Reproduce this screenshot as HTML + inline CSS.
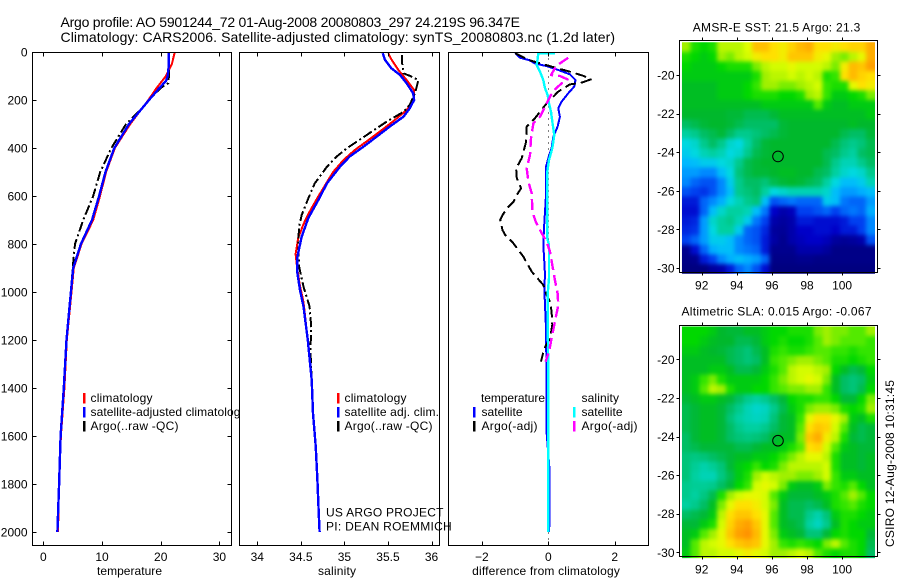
<!DOCTYPE html>
<html>
<head>
<meta charset="utf-8">
<title>Argo profile</title>
<style>
html,body{margin:0;padding:0;background:#fff;}
svg{display:block;}
text{font-family:"Liberation Sans",sans-serif;font-size:12px;fill:#000;}
.title{font-size:14px;}
</style>
</head>
<body>
<svg id="chart" xmlns="http://www.w3.org/2000/svg" width="900" height="580" viewBox="0 0 900 580">
<defs>
<filter id="map-smooth" x="-10%" y="-10%" width="120%" height="120%" color-interpolation-filters="sRGB"><feGaussianBlur stdDeviation="2.2"/></filter>
</defs>
<rect width="900" height="580" fill="#fff"/>
<text class="title" x="60.5" y="27" textLength="459.5">Argo profile: AO 5901244_72 01-Aug-2008 20080803_297 24.219S 96.347E</text>
<text class="title" x="60.5" y="42" textLength="554.5">Climatology: CARS2006. Satellite-adjusted climatology: synTS_20080803.nc (1.2d later)</text>
<g id="plots"></g>
</svg>
<script>
// ---------- axis tick labels ----------
const depthTicks = [0,200,400,600,800,1000,1200,1400,1600,1800,2000];
const tempTicks = [0,10,20,30];
const salTicks = [34,34.5,35,35.5,36];
const diffTicks = [-2,0,2];
const lonTicks = [92,94,96,98,100];
const latTicks = [20,22,24,26,28,30];

// ---------- temperature panel ----------
const tempClimDepth = [0,50,100,150,200,300,400,500,600,700,800,900,1000,1200,1400,1600,1800,2000];
const tempClimValue = [22.4,21.9,20.9,19.3,17.9,14.8,12.2,10.7,9.66,8.5,6.5,5.2,4.8,4.0,3.6,3.0,2.7,2.5];
const tempSatDepth = [0,50,100,120,150,175,200,300,400,500,600,700,800,900,1000,1200,1400,1600,1800,2000];
const tempSatValue = [21.4,21.4,21.2,20.9,19.8,18.9,18.0,14.6,12.1,10.6,9.5,8.3,6.4,5.1,4.7,3.95,3.5,2.95,2.7,2.4];
const tempArgoDepth = [0,50,100,130,150,200,250,300,400,500,600,700,800,900,1000,1200,1400,1600,1800,2000];
const tempArgoValue = [21.4,21.4,21.4,21.3,20.0,18.0,16.2,14.1,11.6,9.7,8.5,6.8,5.4,5.0,4.7,3.95,3.5,2.95,2.7,2.4];

// ---------- salinity panel ----------
const salClimDepth = [5,26,75,117,158,200,242,283,325,367,408,450,500,542,608,675,717,775,842,908,975,1042,1200,1367,1506,1642,1783,1917,2000];
const salClimValue = [35.505,35.53,35.62,35.715,35.8,35.79,35.715,35.58,35.43,35.275,35.12,34.99,34.87,34.8,34.69,34.585,34.53,34.47,34.44,34.46,34.49,34.53,34.58,34.625,34.64,34.67,34.69,34.705,34.715];
const salSatDepth = [5,33,68,96,131,172,200,235,269,311,353,394,436,478,547,617,692,769,853,922,992,1061,1200,1367,1506,1642,1783,1917,2000];
const salSatValue = [35.44,35.466,35.54,35.64,35.715,35.79,35.8,35.75,35.68,35.52,35.37,35.22,35.06,34.95,34.8,34.7,34.586,34.51,34.46,34.46,34.49,34.53,34.58,34.625,34.64,34.67,34.69,34.705,34.715];
const salArgoDepth = [12,54,89,99,117,172,221,249,290,346,401,436,478,547,610,679,728,797,894,978,1061,1150,1240,1367,1506,1642,1783,1917,2000];
const salArgoValue = [35.66,35.665,35.68,35.75,35.85,35.81,35.75,35.68,35.486,35.256,35.03,34.91,34.8,34.66,34.586,34.51,34.48,34.47,34.48,34.53,34.6,34.62,34.61,34.625,34.64,34.67,34.69,34.705,34.715];

// ---------- difference panel ----------
const diffTSatDepth = [5,24,33,47,61,75,93,117,144,172,207,235,270,311,353,401,443,478,526,596,665,735,804,874,929,985,1054,1151,1387,1570,1728,1950,2000];
const diffTSatValue = [-1.0,-0.85,-0.6,-0.4,0,0.3,0.65,0.82,0.78,0.6,0.4,0.3,0.35,0.28,0.15,0.1,0,-0.07,-0.07,-0.07,-0.1,-0.13,-0.15,-0.12,-0.1,-0.12,-0.1,-0.07,-0.05,-0.06,0.03,0.04,0.02];
const diffTArgoDepth = [5,33,57,82,99,114,128,135,165,214,276,311,374,443,485,526,568,596,624,644,679,700,742,762,797,853,915,971,1013,1040,1082,1137,1193,1235,1290];
const diffTArgoValue = [-1.0,-0.6,0,0.65,1.05,1.28,1.0,0.65,0.3,-0.05,-0.4,-0.65,-0.67,-0.8,-0.97,-0.95,-0.82,-0.95,-1.05,-1.2,-1.38,-1.45,-1.38,-1.3,-1.05,-0.75,-0.5,-0.15,-0.05,0.05,0.1,0.12,0.05,-0.12,-0.22];
const diffSSatDepth = [5,6,26,54,82,117,151,179,214,249,290,346,401,450,498,596,777,804,874,943,1013,1387,2000];
const diffSSatValue = [0.2,-0.3,-0.32,-0.35,-0.25,-0.15,-0.1,-0.02,0.02,0.08,0.12,0.18,0.12,0.02,-0.03,-0.03,-0.03,0.02,0.02,0.02,-0.02,0.0,0.0];
const diffSArgoDepth = [24,52,68,96,100,114,131,158,186,270,297,360,429,485,540,589,665,707,755,790,832,887,950,1006,1054,1124,1193,1249,1290];
const diffSArgoValue = [0.6,0.3,0.2,0.08,0.35,0.58,0.4,0.18,0.05,-0.25,-0.45,-0.52,-0.55,-0.65,-0.6,-0.5,-0.48,-0.38,-0.2,-0.05,0.05,0.12,0.2,0.28,0.3,0.2,0.1,0.02,-0.08];

// ---------- satellite maps: colour-scale level per 0.5 degree cell ----------
const sstGrid = [
[70,62,60,62,72,72,72,75,85,85,80,78,82,86,88,80,80,78,80,82,82,88],
[62,60,58,60,70,68,72,74,78,80,80,78,84,84,84,78,76,70,68,72,76,88],
[60,58,58,58,60,62,62,62,68,72,74,74,76,74,74,74,72,68,78,86,84,90],
[58,58,58,58,58,58,58,58,62,70,72,72,74,72,74,72,62,64,80,86,82,80],
[56,56,56,56,58,58,58,60,64,70,70,68,68,70,72,74,64,62,62,76,80,78],
[56,56,56,56,58,58,58,60,62,62,62,60,60,62,70,72,64,58,58,60,62,68],
[56,56,56,56,56,56,56,56,56,58,58,58,58,58,58,66,58,56,56,58,58,58],
[55,55,55,55,55,54,54,52,52,52,54,56,56,56,56,56,56,56,56,56,56,58],
[50,52,54,55,55,54,52,50,50,50,50,54,55,55,55,55,55,55,55,56,55,55],
[44,46,50,52,54,50,46,46,48,50,52,54,55,55,55,55,55,55,52,50,50,54],
[38,40,46,50,46,40,38,44,50,54,55,55,55,55,55,55,55,52,48,46,48,52],
[36,38,42,44,42,38,40,46,52,54,55,55,55,55,55,55,52,50,46,44,50,52],
[33,34,36,36,38,40,46,52,54,55,55,55,55,55,55,55,52,46,42,42,46,50],
[30,30,28,28,34,38,48,52,54,54,55,56,56,55,55,52,50,44,40,38,40,46],
[28,24,22,22,28,36,46,50,50,48,52,54,55,54,52,50,44,38,34,34,36,42],
[22,20,18,22,28,34,46,48,50,44,38,40,42,42,42,42,40,34,30,30,32,34],
[14,14,24,28,32,38,42,46,48,34,22,24,26,24,24,24,36,34,26,24,24,30],
[12,12,24,34,40,44,44,42,34,26,10,6,8,20,20,22,24,20,24,26,24,32],
[14,16,30,40,44,46,42,36,26,20,6,4,6,14,14,12,12,12,14,20,20,28],
[16,18,30,38,44,44,36,24,22,16,4,3,6,10,10,12,12,10,14,14,20,28],
[20,24,30,36,36,34,28,24,22,14,5,2,6,8,10,10,8,4,3,4,6,22],
[2,12,24,32,34,34,28,26,24,14,2,2,2,6,6,6,4,1,1,1,1,1],
[1,2,14,20,28,32,34,32,30,24,1,1,1,2,2,1,1,1,1,1,1,1],
[0,0,0,4,6,14,24,28,22,12,0,0,0,0,0,0,0,0,0,0,0,0]
];
const slaGrid = [
[60,60,60,58,55,54,54,56,56,58,60,60,62,62,62,68,70,68,68,66,66,70],
[60,60,58,56,55,55,52,52,54,58,60,62,60,60,62,66,70,68,66,66,66,64],
[58,58,56,55,54,52,50,48,52,56,62,64,62,62,64,66,66,64,64,62,64,64],
[56,56,56,56,56,52,50,48,50,56,64,66,68,70,70,68,66,62,62,60,62,64],
[56,56,56,58,58,56,52,52,54,58,62,66,72,74,74,72,70,60,56,52,54,60],
[56,58,64,68,62,58,58,58,58,60,64,68,72,74,76,74,68,56,50,48,50,58],
[56,58,66,72,70,62,58,58,60,60,64,66,68,68,70,70,64,56,50,48,52,60],
[54,56,58,58,56,54,50,46,44,46,50,54,60,62,62,64,64,60,54,54,60,68],
[52,54,56,56,54,50,46,42,40,41,46,52,58,62,68,70,70,68,62,60,62,70],
[52,54,56,56,54,48,44,42,41,42,48,54,56,64,76,80,80,76,70,58,56,62],
[52,54,56,56,54,50,46,44,44,46,50,54,56,66,80,84,82,74,66,56,52,54],
[50,54,56,56,54,50,48,47,48,50,54,56,56,68,84,88,78,72,62,54,52,54],
[50,52,54,54,54,54,52,52,54,56,56,58,62,66,80,82,74,66,58,56,54,54],
[48,47,48,50,52,54,56,56,58,58,60,64,68,72,76,76,72,62,56,56,54,56],
[48,45,43,45,48,54,58,60,64,60,62,68,72,72,72,72,74,62,56,56,54,56],
[48,44,42,42,47,52,58,62,70,74,72,70,70,68,68,70,74,64,58,58,56,56],
[46,45,45,46,50,54,60,64,74,76,74,68,58,56,56,58,68,64,62,66,60,56],
[46,44,47,52,62,70,74,76,76,74,66,58,54,54,54,56,58,62,66,70,66,60],
[44,46,50,56,68,76,80,80,78,74,68,56,52,52,50,52,56,62,64,66,62,60],
[50,52,54,58,72,80,84,84,80,76,66,56,52,52,46,43,48,58,62,62,60,58],
[54,54,58,62,74,82,88,90,84,76,66,56,54,52,44,41,46,56,62,60,58,58],
[56,58,66,70,76,84,90,92,86,76,68,58,56,54,48,48,54,60,62,60,60,54],
[56,66,72,74,76,80,84,86,84,76,70,64,62,64,62,60,68,72,66,62,60,52],
[58,66,72,72,74,74,76,78,76,74,70,70,72,74,72,66,62,60,62,62,60,50]
];
const argoLon = [96.347];
const argoLat = [24.219];

// ---------- axis functions ----------
const SVGNS = 'http://www.w3.org/2000/svg';
const plots = document.getElementById('plots');
const yDepth = d => 52 + 0.24 * d;
const xTemp = v => 43.3 + 5.87 * v;
const xSal = v => 257.3 + 87.1 * (v - 34);
const xDiff = v => 548.3 + 33.2 * v;
const xLon = v => 701.7 + 17.55 * (v - 92);
const yLat1 = v => 75 + 19.3 * (v - 20);
const yLat2 = v => 359.3 + 19.3 * (v - 20);

function make(tag, attrs, parent, text) {
  const el = document.createElementNS(SVGNS, tag);
  for (const k in attrs) el.setAttribute(k, attrs[k]);
  if (text !== undefined) el.textContent = text;
  (parent || plots).appendChild(el);
  return el;
}
function group(name) {
  const g = make('g', {});
  
  
  return g;
}
function addLabel(parent, name, x, y, str, anchor, len) {
  const t = make('text', {x: x, y: y, 'text-anchor': anchor || 'start'}, parent, str);
  if (len) t.setAttribute('textLength', len);
  
  
  return t;
}
function addLine(parent, name, x1, y1, x2, y2) {
  const l = make('line', {x1: x1, y1: y1, x2: x2, y2: y2, stroke: '#000', 'stroke-width': 1, 'shape-rendering': 'crispEdges'}, parent);
  
  
  return l;
}
function addSeries(parent, name, depths, values, xFn, color, width, dash) {
  const pts = depths.map((d, i) => xFn(values[i]).toFixed(1) + ',' + yDepth(d).toFixed(1)).join(' ');
  const attrs = {points: pts, fill: 'none', stroke: color, 'stroke-width': width, 'stroke-linejoin': 'round', 'shape-rendering': 'crispEdges'};
  if (dash) attrs['stroke-dasharray'] = dash;
  const p = make('polyline', attrs, parent);
  
  
  return p;
}
function addLegendBar(parent, name, x, y, color) {
  const r = make('rect', {x: x, y: y, width: 2.4, height: 10.5, fill: color, 'shape-rendering': 'crispEdges'}, parent);
  
  
  return r;
}
function addPanel(name, left, right, top, bottom) {
  const g = group(name);
  const bg = make('rect', {x: left, y: top, width: right - left, height: bottom - top, fill: '#fff'}, g);
  
  
  return g;
}
function addFrame(g, name, left, right, top, bottom) {
  const f = make('rect', {x: left, y: top, width: right - left, height: bottom - top, fill: 'none', stroke: '#000', 'stroke-width': 1, 'shape-rendering': 'crispEdges'}, g);
  
  
}
function addXTicks(g, prefix, ticks, xFn, top, bottom) {
  ticks.forEach(v => {
    const x = Math.round(xFn(v)) + 0.5;
    addLine(g, prefix + '-tick-top', x, top, x, top + 4);
    addLine(g, prefix + '-tick-bottom', x, bottom - 4, x, bottom);
    addLabel(g, prefix + '-tick-label', xFn(v), 561, String(v).replace('-', '\u2212'), 'middle');
  });
}

const DASHDOT = '10 3 2 3';
const DASHED = '11 5';

// ---------- temperature panel ----------
(function () {
  const L = 32.5, R = 231.5, T = 52.5, B = 545.5;
  const g = addPanel('temperature-panel', L, R, T, B);
  addSeries(g, 'temperature-climatology-line', tempClimDepth, tempClimValue, xTemp, '#ff0000', 2);
  addSeries(g, 'temperature-argo-line', tempArgoDepth, tempArgoValue, xTemp, '#000', 2, DASHDOT);
  addSeries(g, 'temperature-satellite-line', tempSatDepth, tempSatValue, xTemp, '#0000ff', 2.4);
  addFrame(g, 'temperature-panel', L, R, T, B);
  depthTicks.forEach(d => {
    const y = Math.round(yDepth(d)) + 0.5;
    addLine(g, 'depth-tick-left', L, y, L + 4, y);
    addLine(g, 'depth-tick-right', R - 4, y, R, y);
    addLabel(g, 'depth-tick-label', 27.5, yDepth(d) + 4.5, String(d), 'end');
  });
  addXTicks(g, 'temperature', tempTicks, xTemp, T, B);
  addLabel(g, 'temperature-axis-title', 129.5, 575, 'temperature', 'middle', 65);
  addLegendBar(g, 'legend-climatology-swatch', 83, 393, '#ff0000');
  addLabel(g, 'legend-climatology-label', 90.5, 402, 'climatology', 'start', 62);
  addLegendBar(g, 'legend-satellite-swatch', 83, 407, '#0000ff');
  addLabel(g, 'legend-satellite-label', 90.5, 416, 'satellite-adjusted climatology', 'start', 156);
  addLegendBar(g, 'legend-argo-swatch', 83, 421, '#000');
  addLabel(g, 'legend-argo-label', 90.5, 430, 'Argo(..raw -QC)', 'start', 88);
})();

// ---------- salinity panel ----------
(function () {
  const L = 239.5, R = 439.5, T = 52.5, B = 545.5;
  const g = addPanel('salinity-panel', L, R, T, B);
  addSeries(g, 'salinity-climatology-line', salClimDepth, salClimValue, xSal, '#ff0000', 2);
  addSeries(g, 'salinity-argo-line', salArgoDepth, salArgoValue, xSal, '#000', 2, DASHDOT);
  addSeries(g, 'salinity-satellite-line', salSatDepth, salSatValue, xSal, '#0000ff', 2.4);
  addFrame(g, 'salinity-panel', L, R, T, B);
  addXTicks(g, 'salinity', salTicks, xSal, T, B);
  addLabel(g, 'salinity-axis-title', 337, 575, 'salinity', 'middle', 38);
  addLegendBar(g, 'salinity-legend-climatology-swatch', 337, 393, '#ff0000');
  addLabel(g, 'salinity-legend-climatology-label', 344.5, 402, 'climatology', 'start', 62);
  addLegendBar(g, 'salinity-legend-satellite-swatch', 337, 407, '#0000ff');
  addLabel(g, 'salinity-legend-satellite-label', 344.5, 416, 'satellite adj. clim.', 'start', 94.5);
  addLegendBar(g, 'salinity-legend-argo-swatch', 337, 421, '#000');
  addLabel(g, 'salinity-legend-argo-label', 344.5, 430, 'Argo(..raw -QC)', 'start', 88);
})();

// ---------- difference panel ----------
(function () {
  const L = 448.5, R = 648.5, T = 52.5, B = 545.5;
  const g = addPanel('difference-panel', L, R, T, B);
  const zero = addLine(g, 'zero-reference-line', xDiff(0), T, xDiff(0), B);
  zero.setAttribute('stroke-dasharray', '1 5');
  addSeries(g, 'difference-temperature-satellite-line', diffTSatDepth, diffTSatValue, xDiff, '#0000ff', 2);
  addSeries(g, 'difference-temperature-argo-line', diffTArgoDepth, diffTArgoValue, xDiff, '#000', 2, DASHED);
  addSeries(g, 'difference-salinity-satellite-line', diffSSatDepth, diffSSatValue, xDiff, '#00ffff', 2.4);
  addSeries(g, 'difference-salinity-argo-line', diffSArgoDepth, diffSArgoValue, xDiff, '#ff00ff', 2.4, DASHED);
  addFrame(g, 'difference-panel', L, R, T, B);
  addXTicks(g, 'difference', diffTicks, xDiff, T, B);
  addLabel(g, 'difference-axis-title', 546, 575, 'difference from climatology', 'middle', 147.7);
  addLabel(g, 'legend-temperature-heading', 481, 402, 'temperature', 'start', 64);
  addLegendBar(g, 'legend-temperature-satellite-swatch', 473, 407, '#0000ff');
  addLabel(g, 'legend-temperature-satellite-label', 481.5, 416, 'satellite', 'start', 41);
  addLegendBar(g, 'legend-temperature-argo-swatch', 473, 421, '#000');
  addLabel(g, 'legend-temperature-argo-label', 481.5, 430, 'Argo(-adj)', 'start', 56);
  addLabel(g, 'legend-salinity-heading', 581.5, 402, 'salinity', 'start', 37.5);
  addLegendBar(g, 'legend-salinity-satellite-swatch', 573, 407, '#00ffff');
  addLabel(g, 'legend-salinity-satellite-label', 581.5, 416, 'satellite', 'start', 41);
  addLegendBar(g, 'legend-salinity-argo-swatch', 573, 421, '#ff00ff');
  addLabel(g, 'legend-salinity-argo-label', 581.5, 430, 'Argo(-adj)', 'start', 56);
})();

// ---------- project annotation (drawn over panel edges) ----------
(function () {
  const g = group('project-annotation');
  addLabel(g, 'project-name', 326, 516.5, 'US ARGO PROJECT', 'start', 117.5);
  addLabel(g, 'principal-investigator', 326, 530.5, 'PI: DEAN ROEMMICH', 'start', 125.7);
})();

// ---------- maps ----------
const colorStops = [
  [0,[0,0,128]],[10,[0,0,200]],[20,[0,64,240]],[27,[0,128,255]],[33,[0,184,255]],
  [38,[0,216,224]],[44,[0,208,160]],[50,[0,190,100]],[55,[0,184,44]],[60,[0,216,0]],
  [65,[64,232,0]],[70,[160,240,0]],[75,[224,255,0]],[80,[255,224,0]],[85,[255,192,0]],
  [90,[255,160,0]],[100,[255,96,0]]
];
function levelColor(v) {
  for (let i = 1; i < colorStops.length; i++) {
    if (v <= colorStops[i][0]) {
      const a = colorStops[i - 1], b = colorStops[i];
      const t = (v - a[0]) / (b[0] - a[0]);
      const c = a[1].map((q, j) => Math.round(q + (b[1][j] - q) * t));
      return 'rgb(' + c.join(',') + ')';
    }
  }
  return 'rgb(255,96,0)';
}
function addMap(name, grid, yLat, top, bottom, titleText, titleY, labelY, titleLen) {
  const L = 679.5, R = 877.5;
  const g = group(name);
  const lon0 = 90.875, lat0 = 18.3, step = 0.5;
  const rows = grid.length, cols = grid[0].length;
  const EXT = 12;
  const clip = make('clipPath', {id: name + '-clip'}, g);
  make('rect', {
    x: xLon(lon0), y: yLat(lat0),
    width: xLon(lon0 + cols * step) - xLon(lon0),
    height: yLat(lat0 + rows * step) - yLat(lat0)
  }, clip);
  const clipped = make('g', {'clip-path': 'url(#' + name + '-clip)'}, g);
  
  
  const cells = make('g', {filter: 'url(#map-smooth)'}, clipped);
  
  
  grid.forEach((row, r) => {
    row.forEach((v, c) => {
      const x0 = xLon(lon0 + c * step) - (c === 0 ? EXT : 0);
      const x1 = xLon(lon0 + (c + 1) * step) + (c === cols - 1 ? EXT : 0);
      const y0 = yLat(lat0 + r * step) - (r === 0 ? EXT : 0);
      const y1 = yLat(lat0 + (r + 1) * step) + (r === rows - 1 ? EXT : 0);
      const cell = make('rect', {x: x0.toFixed(2), y: y0.toFixed(2), width: (x1 - x0 + 0.3).toFixed(2), height: (y1 - y0 + 0.3).toFixed(2), fill: levelColor(v), 'shape-rendering': 'crispEdges'}, cells);
      
      
    });
  });
  addFrame(g, name, L, R, top, bottom);
  lonTicks.forEach(v => {
    const x = Math.round(xLon(v)) + 0.5;
    addLine(g, 'map-lon-tick-top', x, top - 3, x, top);
    addLine(g, 'map-lon-tick-bottom', x, bottom, x, bottom + 3);
    addLabel(g, 'map-lon-label', xLon(v), labelY, String(v), 'middle');
  });
  latTicks.forEach(v => {
    const y = Math.round(yLat(v)) + 0.5;
    addLine(g, 'map-lat-tick-left', L - 3, y, L, y);
    addLine(g, 'map-lat-tick-right', R, y, R + 3, y);
    addLabel(g, 'map-lat-label', 674.5, yLat(v) + 4.5, '-' + v, 'end');
  });
  argoLon.forEach((lon, i) => {
    const m = make('circle', {cx: xLon(lon), cy: yLat(argoLat[i]), r: 5.3, fill: 'none', stroke: '#000', 'stroke-width': 1}, g);
    
    
  });
  addLabel(g, name + '-title', 776.5, titleY, titleText, 'middle', titleLen);
}
addMap('sst-map', sstGrid, yLat1, 40.5, 272.5, 'AMSR-E SST: 21.5 Argo: 21.3', 31.5, 289.5, 167.5);
addMap('sla-map', slaGrid, yLat2, 325.5, 556.5, 'Altimetric SLA: 0.015 Argo: -0.067', 315.5, 573.5, 190);

(function () {
  const g = group('timestamp');
  const t = addLabel(g, 'timestamp-label', 0, 0, 'CSIRO 12-Aug-2008 10:31:45', 'start', 167);
  t.setAttribute('transform', 'translate(894,547) rotate(-90)');
})();
</script>
</body>
</html>
